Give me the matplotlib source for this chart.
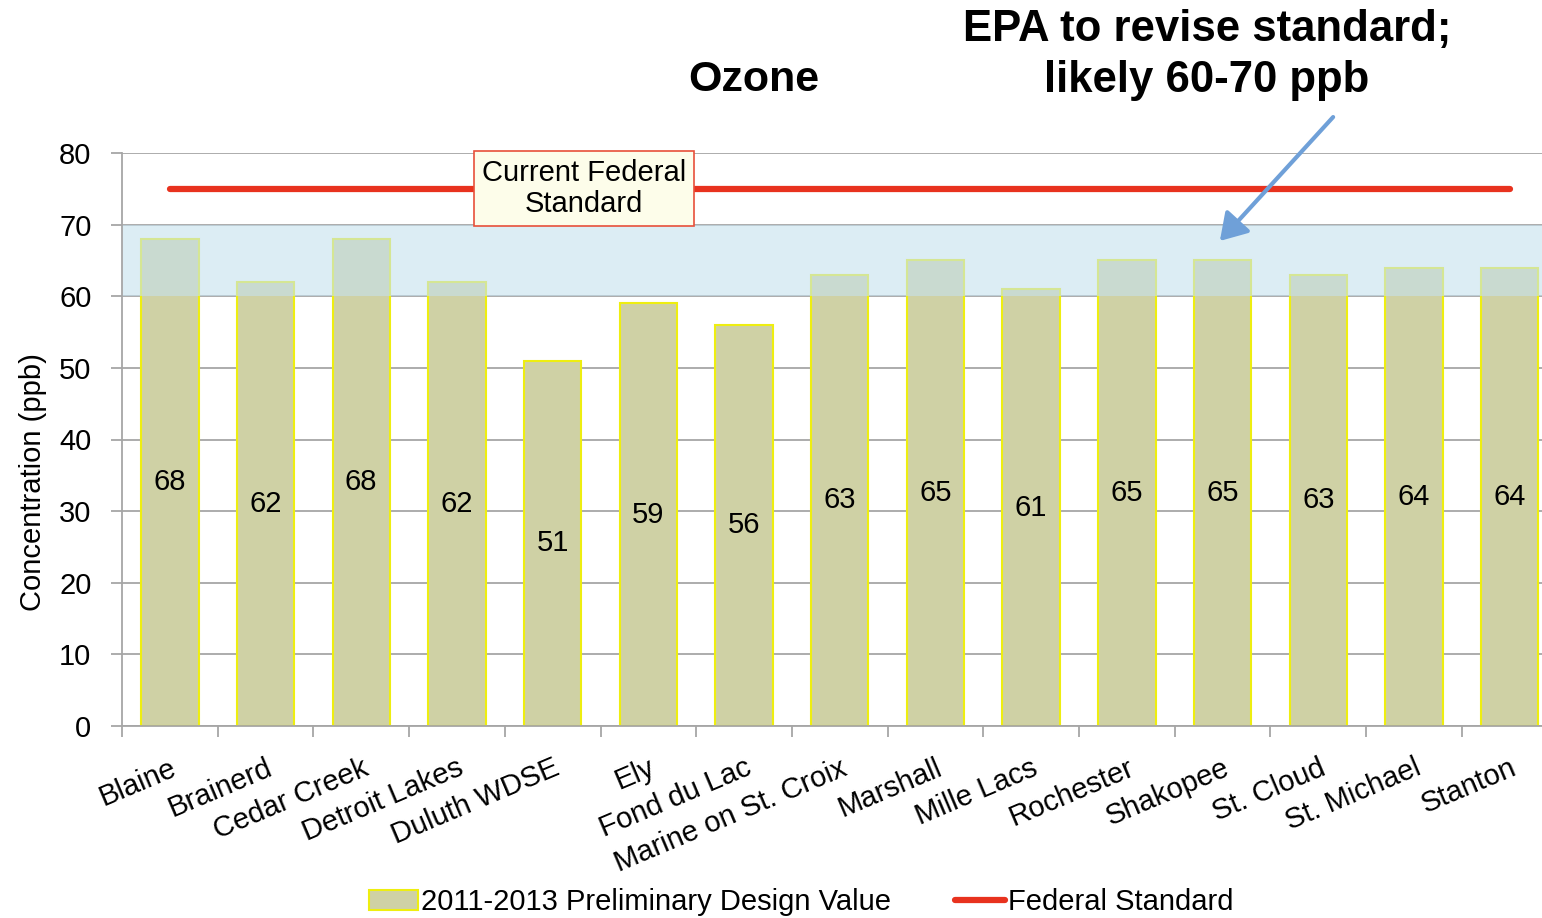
import numpy as np
import matplotlib
matplotlib.use("Agg")
import matplotlib.pyplot as plt

## DATA ##
SITES = [
	"Blaine", "Brainerd", "Cedar Creek", "Detroit Lakes", "Duluth WDSE",
	"Ely", "Fond du Lac", "Marine on St. Croix", "Marshall", "Mille Lacs",
	"Rochester", "Shakopee", "St. Cloud", "St. Michael", "Stanton"
]
DESIGN_VALUES = [68, 62, 68, 62, 51, 59, 56, 63, 65, 61, 65, 65, 63, 64, 64]
FEDERAL_STANDARD = [75] * len(SITES)
PROPOSED_RANGE = (60, 70)
Y_TICKS = list(range(0, 81, 10))

## STYLE ##
W, H = 1542, 918
BAR_COLOR = "#cfd1a5"
BAR_EDGE = "#eeee10"
BAND_COLOR = (197 / 255, 225 / 255, 238 / 255)
RED = "#e8321e"
GRID = "#a6a6a6"
ARROW = "#6fa0d8"
FS = 21

plt.rcParams["font.family"] = ["Liberation Sans", "DejaVu Sans"]

fig = plt.figure(figsize = (W / 100, H / 100), dpi = 100)
ax = fig.add_axes([122 / W, 1 - 726 / H, (W - 122) / W, (726 - 153) / H])

x = np.arange(len(SITES))
spacing = 95.7

bars = ax.bar(
	x, DESIGN_VALUES, 0.6,
	color = BAR_COLOR, edgecolor = BAR_EDGE, linewidth = 1.5,
	zorder = 2, label = "2011-2013 Preliminary Design Value"
)
for rect, val in zip(bars, DESIGN_VALUES):
	ax.text(
		rect.get_x() + rect.get_width() / 2, val / 2, str(val),
		ha = "center", va = "center", fontsize = FS, zorder = 5
	)

ax.axhspan(PROPOSED_RANGE[0], PROPOSED_RANGE[1], color = BAND_COLOR, alpha = 0.6, lw = 0, zorder = 2.5)

line, = ax.plot(
	x, FEDERAL_STANDARD, color = RED, lw = 4.5,
	solid_capstyle = "round", zorder = 3, label = "Federal Standard"
)

ax.text(
	4.33, 75, "Current Federal\nStandard",
	ha = "center", va = "center", fontsize = FS, zorder = 6, linespacing = 1.15,
	bbox = dict(boxstyle = "square,pad=0.27", facecolor = "#fdfdea", edgecolor = "#e8503a", lw = 1.2)
)

# grid and axes
ax.set_yticks(Y_TICKS)
ax.yaxis.grid(True, color = GRID, lw = 1.3, zorder = 1)
ax.set_axisbelow(True)
for side in ["top", "right"]:
	ax.spines[side].set_visible(False)
for side in ["left", "bottom"]:
	ax.spines[side].set_color(GRID)
	ax.spines[side].set_linewidth(1.3)

ax.set_xticks(np.arange(-0.5, len(SITES), 1.0))
ax.set_xticklabels([])
ax.set_xticks(x, minor = True)
ax.set_xticklabels(SITES, minor = True, rotation = 23, ha = "right", va = "top", rotation_mode = "anchor", fontsize = FS)
ax.tick_params(axis = "x", which = "major", length = 8, color = GRID, width = 1.3)
ax.tick_params(axis = "x", which = "minor", length = 0, pad = 20)
ax.tick_params(axis = "y", length = 8, color = GRID, width = 1.3, labelsize = FS, pad = 14)

ax.set_ylabel("Concentration (ppb)", fontsize = FS)
ax.yaxis.set_label_coords(-0.053, 0.426)

ax.set_xlim(-0.5, -0.5 + (W - 122) / spacing)
ax.set_ylim(0, 80)

# titles
fig.text(754 / W, 1 - 80 / H, "Ozone", ha = "center", va = "center", fontsize = 31, fontweight = "bold")
fig.text(1207 / W, 1 - 55 / H, "EPA to revise standard;\nlikely 60-70 ppb",
	ha = "center", va = "center", fontsize = 31.5, fontweight = "bold", linespacing = 1.3)

fig.add_artist(matplotlib.patches.FancyArrowPatch(
	(1335 / W, 1 - 115 / H), (1218 / W, 1 - 243 / H),
	transform = fig.transFigure, arrowstyle = "-|>,head_length=8,head_width=5",
	color = ARROW, lw = 3, mutation_scale = 2
))

fig.legend(
	[bars, line], [bars.get_label(), line.get_label()],
	loc = "center", bbox_to_anchor = (801 / W, 1 - 902 / H), ncol = 2,
	frameon = False, fontsize = FS, handlelength = 1.7, handletextpad = 0.1,
	columnspacing = 2.2, borderpad = 0
)

fig.savefig("out.png", dpi = 100)
